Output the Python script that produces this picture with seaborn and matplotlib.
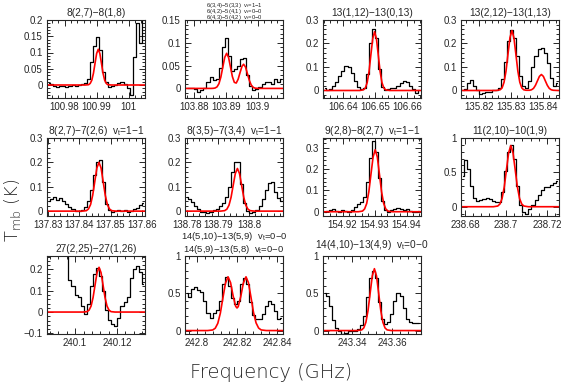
import numpy as np
import matplotlib
matplotlib.use("Agg")
import matplotlib.pyplot as plt
from matplotlib.ticker import MultipleLocator, FixedLocator, FixedFormatter
import seaborn as sns

# ---------------- data ----------------
p1_title = "8(2,7)\u22128(1,8)"
p1_f_start, p1_f_step = 100.97498, 0.000956
p1_tmb = [0.005, 0.003, -0.003, -0.005, -0.003, -0.003, -0.005, -0.003, -0.001, -0.003,
          0.0, 0.003, 0.007, 0.02, 0.07, 0.12, 0.148, 0.107, 0.04, 0.01,
          -0.007, -0.003, 0.0, 0.005, 0.01, 0.003, -0.01, -0.03, 0.087, 0.19, 0.128, 0.21]
p1_model_f = [100.9745, 100.9865, 100.9875, 100.988, 100.9885, 100.989, 100.9895, 100.99, 100.9905,
              100.991, 100.9915, 100.992, 100.9925, 100.993, 100.9935, 100.9945, 101.0051]
p1_model_t = [0, 0.0, 0.001, 0.005, 0.015, 0.036, 0.067, 0.097, 0.11,
              0.097, 0.067, 0.036, 0.015, 0.005, 0.001, 0.0, 0]
p1_xticks = [100.98, 100.99, 101.0]
p1_xticklabels = ["100.98", "100.99", "101"]
p1_yticks = [0, 0.05, 0.1, 0.15, 0.2]
p1_yticklabels = ["0", "0.05", "0.1", "0.15", "0.2"]

p2_title = ("6(3,4)\u22125(3,3)  v$_\\mathregular{t}$=1\u22121\n"
            "6(4,2)\u22125(4,1)  v$_\\mathregular{t}$=0\u22120\n"
            "6(4,3)\u22125(4,2)  v$_\\mathregular{t}$=0\u22120")
p2_f_start, p2_f_step = 103.87778, 0.000956
p2_tmb = [0.002, 0.001, 0.0, -0.002, -0.007, -0.004, 0.002, 0.015, 0.026, 0.018,
          0.02, 0.045, 0.09, 0.11, 0.07, 0.038, 0.042, 0.05, 0.065, 0.066,
          0.03, 0.005, -0.003, -0.001, 0.004, 0.01, 0.013, 0.013, 0.01, 0.02, 0.014, 0.02]
p2_model_f = [103.8773, 103.8855, 103.8861, 103.8867, 103.8873, 103.8879, 103.8885, 103.8891, 103.8897,
              103.8903, 103.8909, 103.8915, 103.8921, 103.8927, 103.8933, 103.8939, 103.8945,
              103.8951, 103.8956, 103.8962, 103.8968, 103.8974, 103.898, 103.8986, 103.8992,
              103.9004, 103.9079]
p2_model_t = [0, 0.0, 0.0002, 0.0009, 0.0034, 0.0104, 0.025, 0.0467, 0.068,
              0.077, 0.068, 0.0469, 0.0258, 0.0133, 0.0118, 0.0203, 0.035,
              0.0486, 0.053, 0.0468, 0.0321, 0.0172, 0.0072, 0.0023, 0.0006,
              0.0, 0]
p2_xticks = [103.88, 103.89, 103.9]
p2_xticklabels = ["103.88", "103.89", "103.9"]
p2_yticks = [0, 0.05, 0.1, 0.15]
p2_yticklabels = ["0", "0.05", "0.1", "0.15"]

p3_title = "13(1,12)\u221213(0,13)"
p3_f_start, p3_f_step = 106.63418, 0.000956
p3_tmb = [0.01, 0.0, 0.005, 0.02, 0.038, 0.06, 0.085, 0.105, 0.1, 0.075,
          0.042, 0.015, 0.007, 0.012, 0.07, 0.2, 0.26, 0.225, 0.09, 0.015,
          0.003, 0.005, 0.01, 0.012, 0.018, 0.03, 0.042, 0.034, 0.018, 0.005, -0.01, 0.003]
p3_model_f = [106.6337, 106.6452, 106.64635, 106.64693, 106.6475, 106.64808, 106.64865, 106.64923,
              106.6498, 106.65038, 106.65095, 106.65153, 106.6521, 106.65268, 106.65325,
              106.6544, 106.6643]
p3_model_t = [0, 0, 0.003, 0.011, 0.034, 0.081, 0.152, 0.221,
              0.25, 0.221, 0.152, 0.081, 0.034, 0.011, 0.003, 0, 0]
p3_xticks = [106.64, 106.65, 106.66]
p3_xticklabels = ["106.64", "106.65", "106.66"]
p3_yticks = [0, 0.1, 0.2, 0.3]
p3_yticklabels = ["0", "0.1", "0.2", "0.3"]

p4_title = "13(2,12)\u221213(1,13)"
p4_f_start, p4_f_step = 135.81488, 0.000956
p4_tmb = [0.0, 0.008, 0.03, 0.045, 0.02, 0.003, -0.015, -0.012, -0.008, -0.005,
          0.0, 0.002, 0.01, 0.05, 0.12, 0.21, 0.258, 0.225, 0.145, 0.06,
          0.02, 0.01, 0.04, 0.1, 0.145, 0.175, 0.18, 0.16, 0.115, 0.055, 0.02, 0.03]
p4_model_f = [135.8144, 135.8254, 135.82661, 135.82723, 135.82784, 135.82846, 135.82907, 135.82969,
              135.8303, 135.83092, 135.83153, 135.83215, 135.83276, 135.83338, 135.83399,
              135.8347, 135.83581, 135.83642, 135.83704, 135.83765, 135.83827, 135.83888,
              135.8395, 135.84012, 135.84073, 135.84135, 135.84196, 135.84258, 135.84319,
              135.8445, 135.8450]
p4_model_t = [0, 0, 0.003, 0.011, 0.035, 0.083, 0.155, 0.225,
              0.255, 0.225, 0.155, 0.083, 0.035, 0.011, 0.003,
              0.001, 0.001, 0.003, 0.009, 0.022, 0.041, 0.06,
              0.068, 0.06, 0.041, 0.022, 0.009, 0.003, 0.001,
              0, 0]
p4_xticks = [135.82, 135.83, 135.84]
p4_xticklabels = ["135.82", "135.83", "135.84"]
p4_yticks = [0, 0.1, 0.2, 0.3]
p4_yticklabels = ["0", "0.1", "0.2", "0.3"]

p5_title = "8(2,7)\u22127(2,6)  v$_\\mathregular{t}$=1\u22121"
p5_f_start, p5_f_step = 137.83019, 0.000978
p5_tmb = [0.042, 0.05, 0.056, 0.046, 0.055, 0.04, 0.03, 0.018, 0.008, 0.0,
          0.002, 0.006, 0.016, 0.04, 0.085, 0.15, 0.2, 0.21, 0.12, 0.03,
          0.004, -0.003, 0.0, 0.003, 0.0, 0.003, -0.005, 0.0, 0.008, 0.014, 0.025, 0.035]
p5_model_f = [137.8297, 137.84094, 137.84228, 137.84295, 137.84362, 137.84429, 137.84496, 137.84563,
              137.8463, 137.84697, 137.84764, 137.84831, 137.84898, 137.84965, 137.85032,
              137.85166, 137.8610]
p5_model_t = [0, 0, 0.002, 0.009, 0.027, 0.065, 0.121, 0.177,
              0.2, 0.177, 0.121, 0.065, 0.027, 0.009, 0.002, 0, 0]
p5_xticks = [137.83, 137.84, 137.85, 137.86]
p5_xticklabels = ["137.83", "137.84", "137.85", "137.86"]
p5_yticks = [0, 0.1, 0.2, 0.3]
p5_yticklabels = ["0", "0.1", "0.2", "0.3"]

p6_title = "8(3,5)\u22127(3,4)  v$_\\mathregular{t}$=1\u22121"
p6_f_start, p6_f_step = 138.77989, 0.000988
p6_tmb = [0.06, 0.05, 0.038, 0.02, 0.008, -0.003, -0.005, -0.008, -0.005, 0.003,
          0.01, 0.02, 0.035, 0.058, 0.1, 0.16, 0.2, 0.2, 0.11, 0.035,
          0.002, -0.008, -0.003, 0.003, 0.02, 0.05, 0.085, 0.115, 0.12, 0.08, 0.055, 0.04]
p6_model_f = [138.7794, 138.79086, 138.7922, 138.7929, 138.79358, 138.79426, 138.79494, 138.79562,
              138.7963, 138.79698, 138.79766, 138.79834, 138.79902, 138.7997, 138.8004,
              138.80174, 138.8110]
p6_model_t = [0, 0, 0.002, 0.008, 0.024, 0.057, 0.106, 0.154,
              0.175, 0.154, 0.106, 0.057, 0.024, 0.008, 0.002, 0, 0]
p6_xticks = [138.78, 138.79, 138.8]
p6_xticklabels = ["138.78", "138.79", "138.8"]
p6_yticks = [0, 0.1, 0.2, 0.3]
p6_yticklabels = ["0", "0.1", "0.2", "0.3"]

p7_title = "9(2,8)\u22128(2,7)  v$_\\mathregular{t}$=1\u22121"
p7_f_start, p7_f_step = 154.91438, 0.000956
p7_tmb = [0.0, 0.003, 0.008, 0.012, 0.003, 0.0, 0.006, 0.003, 0.0, 0.01,
          0.022, 0.035, 0.045, 0.07, 0.14, 0.25, 0.33, 0.28, 0.16, 0.05,
          0.01, 0.0, 0.006, 0.012, 0.018, 0.012, 0.006, 0.012, 0.004, 0.0, -0.003, 0.003]
p7_model_f = [154.9139, 154.92492, 154.92624, 154.9269, 154.92756, 154.92822, 154.92888, 154.92954,
              154.9302, 154.93086, 154.93152, 154.93218, 154.93284, 154.9335, 154.93416,
              154.93548, 154.9445]
p7_model_t = [0, 0, 0.003, 0.013, 0.039, 0.094, 0.176, 0.256,
              0.29, 0.256, 0.176, 0.094, 0.039, 0.013, 0.003, 0, 0]
p7_xticks = [154.92, 154.93, 154.94]
p7_xticklabels = ["154.92", "154.93", "154.94"]
p7_yticks = [0, 0.1, 0.2, 0.3]
p7_yticklabels = ["0", "0.1", "0.2", "0.3"]

p8_title = "11(2,10)\u221210(1,9)"
p8_f_start, p8_f_step = 238.67885, 0.001494
p8_tmb = [0.45, 0.68, 0.55, 0.3, 0.12, 0.09, 0.1, 0.115, 0.13, 0.11,
          0.08, 0.07, 0.075, 0.22, 0.52, 0.8, 0.9, 0.7, 0.3, 0.02,
          -0.08, -0.1, -0.04, 0.03, 0.1, 0.17, 0.24, 0.28, 0.28, 0.31, 0.34, 0.38]
p8_model_f = [238.6781, 238.69388, 238.69601, 238.69708, 238.69814, 238.69921, 238.70027, 238.70134,
              238.7024, 238.70347, 238.70453, 238.7056, 238.70666, 238.70773, 238.70879,
              238.71092, 238.7259]
p8_model_t = [0, 0, 0.01, 0.039, 0.12, 0.289, 0.54, 0.785,
              0.89, 0.785, 0.54, 0.289, 0.12, 0.039, 0.01, 0, 0]
p8_xticks = [238.68, 238.7, 238.72]
p8_xticklabels = ["238.68", "238.7", "238.72"]
p8_yticks = [0, 0.5, 1.0]
p8_yticklabels = ["0", "0.5", "1"]

p9_title = "27(2,25)\u221227(1,26)"
p9_f_start, p9_f_step = 240.08733, 0.001459
p9_tmb = [0.4, 0.4, 0.4, 0.4, 0.4, 0.4, 0.4, 0.15, 0.12, 0.08,
          0.07, 0.03, -0.01, 0.04, 0.12, 0.18, 0.205, 0.17, 0.1, 0.01,
          -0.035, -0.055, -0.065, -0.03, 0.03, 0.045, 0.07, 0.16, 0.2, 0.215, 0.19, 0.13]
p9_model_f = [240.0866, 240.1038, 240.1057, 240.10665, 240.1076, 240.10855, 240.1095, 240.11045,
              240.1114, 240.11235, 240.1133, 240.11425, 240.1152, 240.11615, 240.1171,
              240.119, 240.1333]
p9_model_t = [0, 0, 0.002, 0.009, 0.028, 0.068, 0.127, 0.185,
              0.21, 0.185, 0.127, 0.068, 0.028, 0.009, 0.002, 0, 0]
p9_xticks = [240.1, 240.12]
p9_xticklabels = ["240.1", "240.12"]
p9_yticks = [-0.1, 0, 0.1, 0.2]
p9_yticklabels = ["\u22120.1", "0", "0.1", "0.2"]

p10_title = ("14(5,10)\u221213(5,9)  v$_\\mathregular{t}$=0\u22120\n"
             "14(5,9)\u221213(5,8)  v$_\\mathregular{t}$=0\u22120")
p10_f_start, p10_f_step = 242.79477, 0.001531
p10_tmb = [0.5, 0.45, 0.56, 0.58, 0.55, 0.52, 0.4, 0.23, 0.17, 0.23,
           0.28, 0.4, 0.63, 0.72, 0.6, 0.44, 0.36, 0.4, 0.62, 0.7,
           0.63, 0.38, 0.21, 0.15, 0.15, 0.22, 0.33, 0.4, 0.36, 0.26, 0.15, 0.17]
p10_model_f = [242.794, 242.8053, 242.80785, 242.80913, 242.8104, 242.81168, 242.81295, 242.81423,
               242.8155, 242.81678, 242.81805, 242.81933, 242.82, 242.8206, 242.82188,
               242.82315, 242.8245, 242.8257, 242.82698, 242.82825, 242.82953, 242.8308,
               242.83208, 242.83463, 242.843]
p10_model_t = [0, 0.0002, 0.008, 0.0316, 0.097, 0.234, 0.437, 0.635,
               0.721, 0.643, 0.466, 0.326, 0.303, 0.321, 0.456,
               0.634, 0.721, 0.644, 0.449, 0.244, 0.103, 0.034,
               0.0087, 0.0003, 0]
p10_xticks = [242.8, 242.82, 242.84]
p10_xticklabels = ["242.8", "242.82", "242.84"]
p10_yticks = [0, 0.5, 1.0]
p10_yticklabels = ["0", "0.5", "1"]

p11_title = "14(4,10)\u221213(4,9)  v$_\\mathregular{t}$=0\u22120"
p11_f_start, p11_f_step = 243.32607, 0.001531
p11_tmb = [0.5, 0.47, 0.33, 0.14, 0.03, -0.01, -0.04, -0.03, 0.0, 0.0,
           -0.005, 0.02, 0.08, 0.2, 0.45, 0.7, 0.8, 0.7, 0.38, 0.15,
           0.09, 0.12, 0.22, 0.4, 0.5, 0.46, 0.3, 0.16, 0.11, 0.1, 0.1, 0.1]
p11_model_f = [243.3253, 243.34252, 243.34464, 243.3457, 243.34676, 243.34782, 243.34888, 243.34994,
               243.351, 243.35206, 243.35312, 243.35418, 243.35524, 243.3563, 243.35736,
               243.35948, 243.3743]
p11_model_t = [0, 0, 0.009, 0.036, 0.112, 0.27, 0.503, 0.732,
               0.83, 0.732, 0.503, 0.27, 0.112, 0.036, 0.009, 0, 0]
p11_xticks = [243.34, 243.36]
p11_xticklabels = ["243.34", "243.36"]
p11_yticks = [0, 0.5, 1.0]
p11_yticklabels = ["0", "0.5", "1"]

# ---------------- layout ----------------
W, H = 563, 388
col_left = [47, 185, 323, 461]
row_top = [20, 138, 256]
ax_w, ax_h = 98, 78

xlims = [(100.9745, 101.0051), (103.8773, 103.9079), (106.6337, 106.6643), (135.8144, 135.8450),
         (137.8297, 137.8610), (138.7794, 138.8110), (154.9139, 154.9445), (238.6781, 238.7259),
         (240.0866, 240.1333), (242.7940, 242.8430), (243.3253, 243.3743)]
ylims = [(-0.04, 0.2), (-0.021, 0.15), (-0.032, 0.3), (-0.032, 0.3),
         (-0.02, 0.3), (-0.02, 0.3), (-0.02, 0.345), (-0.135, 1.0),
         (-0.103, 0.263), (-0.046, 1.0), (-0.046, 1.0)]

panels = []
for k in range(1, 12):
    g = globals()
    panels.append(dict(title=g[f"p{k}_title"], f_start=g[f"p{k}_f_start"], f_step=g[f"p{k}_f_step"],
                       tmb=np.array(g[f"p{k}_tmb"]),
                       mf=np.array(g[f"p{k}_model_f"]), mt=np.array(g[f"p{k}_model_t"]),
                       xt=g[f"p{k}_xticks"], xtl=g[f"p{k}_xticklabels"],
                       yt=g[f"p{k}_yticks"], ytl=g[f"p{k}_yticklabels"]))

sns.set_style("ticks")
plt.rcParams["font.family"] = ["Liberation Sans", "DejaVu Sans"]
plt.rcParams["mathtext.fontset"] = "custom"
plt.rcParams["mathtext.rm"] = "Liberation Sans"
plt.rcParams["mathtext.it"] = "Liberation Sans:italic"

fig = plt.figure(figsize=(W / 100, H / 100), dpi=100)

for idx, p in enumerate(panels):
    r, c = divmod(idx, 4)
    l = col_left[c] / W
    b = 1 - (row_top[r] + ax_h) / H
    ax = fig.add_axes([l, b, ax_w / W, ax_h / H])
    freq = p["f_start"] + p["f_step"] * np.arange(len(p["tmb"]))
    sns.lineplot(x=freq, y=p["tmb"], ax=ax, color="black", lw=0.9,
                 drawstyle="steps-mid", estimator=None)
    sns.lineplot(x=p["mf"], y=p["mt"], ax=ax, color="red", lw=1.2, estimator=None)
    ax.set_xlim(*xlims[idx])
    ax.set_ylim(*ylims[idx])
    ax.xaxis.set_major_locator(FixedLocator(p["xt"]))
    ax.xaxis.set_major_formatter(FixedFormatter(p["xtl"]))
    ax.yaxis.set_major_locator(FixedLocator(p["yt"]))
    ax.yaxis.set_major_formatter(FixedFormatter(p["ytl"]))
    xmaj = p["xt"][1] - p["xt"][0]
    ymaj = p["yt"][1] - p["yt"][0]
    ax.xaxis.set_minor_locator(MultipleLocator(xmaj / 5))
    ax.yaxis.set_minor_locator(MultipleLocator(ymaj / 5))
    ax.tick_params(which="both", direction="in", top=True, right=True,
                   labelsize=7, width=0.7, pad=3)
    ax.tick_params(which="major", length=4)
    ax.tick_params(which="minor", length=2)
    for s in ax.spines.values():
        s.set_linewidth(0.8)
    ax.set_xlabel("")
    ax.set_ylabel("")
    if idx == 1:
        xc = (col_left[c] + ax_w / 2) / W
        fig.text(xc, 1 - 0.8 / H, p["title"], ha="center", va="top",
                 fontsize=4.2, linespacing=0.5)
    elif idx == 9:
        ax.set_title(p["title"], fontsize=6.8, pad=1.5, linespacing=1.0)
    elif idx == 10:
        ax.set_title(p["title"], fontsize=7.3, pad=5.5)
    else:
        ax.set_title(p["title"], fontsize=7.3, pad=3)

fig.text(0.481, 0.041, "Frequency (GHz)", ha="center", va="center", fontsize=14,
         fontweight="light", family="DejaVu Sans")
fig.text(0.022, 0.459, "T$_\\mathregular{mb}$ (K)", ha="center", va="center", rotation=90,
         fontsize=13, fontweight="light", family="DejaVu Sans")

fig.savefig("out.png", dpi=100)
